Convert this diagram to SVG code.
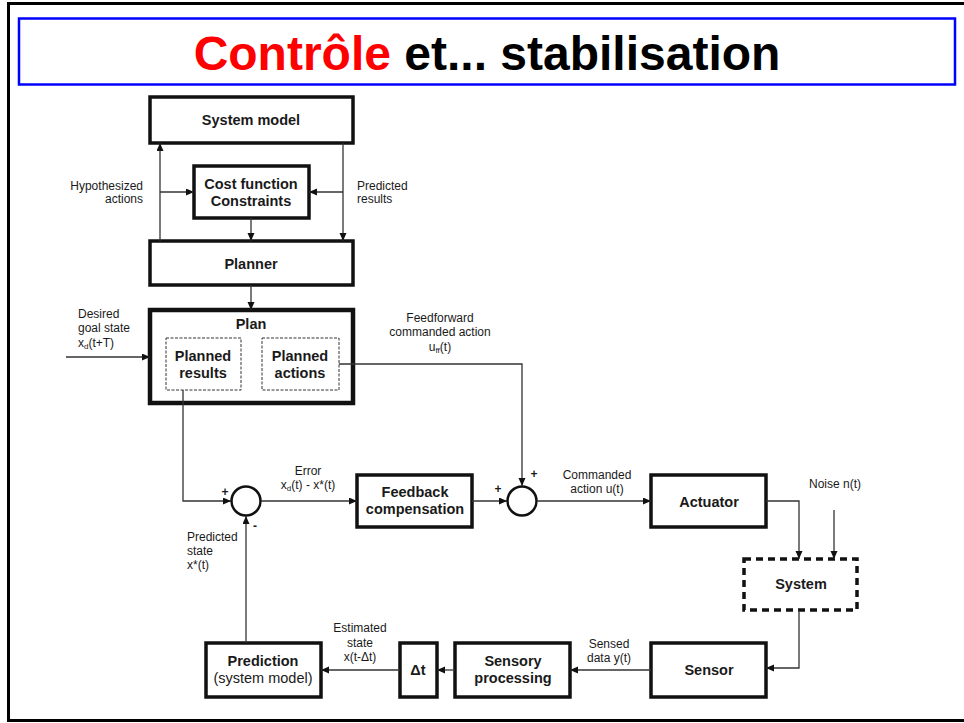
<svg xmlns="http://www.w3.org/2000/svg" width="964" height="723" viewBox="0 0 964 723">
<style>
.box{fill:#fff;stroke:#111;stroke-width:3.5}
.thin{fill:#fff;stroke:#333;stroke-width:1;stroke-dasharray:3 1.5}
.sys{fill:#fff;stroke:#111;stroke-width:3.5;stroke-dasharray:7 5}
.b{font-family:"Liberation Sans",Arial,sans-serif;font-weight:bold;font-size:14.5px;fill:#1a1a1a;text-anchor:middle}
.l{font-family:"Liberation Sans",Arial,sans-serif;font-size:12px;fill:#1a1a1a}
.c{text-anchor:middle}
.e{text-anchor:end}
.con path{fill:none;stroke:#333;stroke-width:1.3;marker-end:url(#ah)}
.sum{fill:#fff;stroke:#111;stroke-width:2.5}
</style>
<defs>
<marker id="ah" markerUnits="userSpaceOnUse" markerWidth="9" markerHeight="8" refX="8" refY="3.5" orient="auto">
<path d="M0,0 L8,3.5 L0,7 z" fill="#111"/>
</marker>
</defs>
<rect x="0" y="0" width="964" height="723" fill="#fff"/>
<rect x="8.5" y="3.5" width="970" height="717" fill="none" stroke="#000" stroke-width="3"/>
<g id="title">
<rect x="19" y="18.5" width="936" height="66" fill="#fff" stroke="#0000ff" stroke-width="2.5"/>
<text x="487" y="69.5" text-anchor="middle" font-family="'Liberation Sans',Arial,sans-serif" font-weight="bold" font-size="48px"><tspan fill="#ff0000">Contrôle</tspan><tspan fill="#000"> et... stabilisation</tspan></text>
</g>
<g id="system-model"><rect class="box" x="150" y="97" width="203" height="46"/><text class="b" x="251" y="125">System model</text></g>
<g id="cost-function"><rect class="box" x="194" y="166" width="115" height="52"/><text class="b" x="251" y="189">Cost function</text><text class="b" x="251" y="206">Constraints</text></g>
<g id="planner"><rect class="box" x="150" y="241" width="203" height="44"/><text class="b" x="251" y="269">Planner</text></g>
<g id="plan"><rect class="box" style="stroke-width:4.5" x="150" y="310" width="203" height="93"/><text class="b" x="251" y="329">Plan</text>
<g id="planned-results"><rect class="thin" x="166" y="338" width="75" height="52"/><text class="b" x="203" y="361">Planned</text><text class="b" x="203" y="378">results</text></g>
<g id="planned-actions"><rect class="thin" x="262" y="338" width="77" height="52"/><text class="b" x="300" y="361">Planned</text><text class="b" x="300" y="378">actions</text></g>
</g>
<g id="sum1"><circle class="sum" cx="246" cy="501" r="14.5"/><text class="b" x="225" y="496" style="font-size:12px">+</text><text class="b" x="255" y="530" style="font-size:12px">-</text></g>
<g id="feedback"><rect class="box" x="357" y="475" width="115" height="52"/><text class="b" x="415" y="497">Feedback</text><text class="b" x="415" y="514">compensation</text></g>
<g id="sum2"><circle class="sum" cx="522" cy="501" r="14.5"/><text class="b" x="498" y="493" style="font-size:12px">+</text><text class="b" x="534" y="478" style="font-size:12px">+</text></g>
<g id="actuator"><rect class="box" x="651" y="475" width="115" height="52"/><text class="b" x="709" y="507">Actuator</text></g>
<g id="system"><rect class="sys" x="744" y="559" width="113" height="51"/><text class="b" x="801" y="589">System</text></g>
<g id="sensor"><rect class="box" x="651" y="643" width="115" height="54"/><text class="b" x="709" y="675">Sensor</text></g>
<g id="sensory-processing"><rect class="box" x="455" y="643" width="115" height="54"/><text class="b" x="513" y="666">Sensory</text><text class="b" x="513" y="683">processing</text></g>
<g id="delta-t"><rect class="box" x="400" y="643" width="37" height="54"/><text class="b" x="418" y="675">Δt</text></g>
<g id="prediction"><rect class="box" x="206" y="643" width="115" height="54"/><text class="b" x="263" y="666">Prediction</text><text class="b" x="263" y="683" style="font-weight:normal">(system model)</text></g>
<g id="connectors" class="con">
<path d="M160,241 V143"/>
<path d="M160,192 H194"/>
<path d="M343,143 V241"/>
<path d="M343,192 H309"/>
<path d="M251,218 V241"/>
<path d="M251,285 V310"/>
<path d="M66,357 H150"/>
<path d="M339,364 H522 V486"/>
<path d="M183,390 V501 H231"/>
<path d="M261,501 H357"/>
<path d="M472,501 H507"/>
<path d="M537,501 H651"/>
<path d="M766,501 H799 V559"/>
<path d="M834,510 V559"/>
<path d="M799,610 V668 H766"/>
<path d="M651,670 H570"/>
<path d="M455,670 H437"/>
<path d="M400,670 H321"/>
<path d="M246,643 V516"/>
</g>
<g id="labels">
<text class="l e" x="143" y="190">Hypothesized</text>
<text class="l e" x="143" y="203">actions</text>
<text class="l" x="357" y="190">Predicted</text>
<text class="l" x="357" y="203">results</text>
<text class="l" x="78" y="318">Desired</text>
<text class="l" x="78" y="332">goal state</text>
<text class="l" x="78" y="347">x<tspan font-size="8" dy="2">d</tspan><tspan dy="-2">(t+T)</tspan></text>
<text class="l c" x="440" y="322">Feedforward</text>
<text class="l c" x="440" y="336">commanded action</text>
<text class="l c" x="440" y="351">u<tspan font-size="8" dy="2">ff</tspan><tspan dy="-2">(t)</tspan></text>
<text class="l c" x="308" y="475">Error</text>
<text class="l c" x="308" y="489">x<tspan font-size="8" dy="2">d</tspan><tspan dy="-2">(t) - x*(t)</tspan></text>
<text class="l c" x="597" y="479">Commanded</text>
<text class="l c" x="597" y="493">action u(t)</text>
<text class="l c" x="835" y="488">Noise n(t)</text>
<text class="l" x="187" y="541">Predicted</text>
<text class="l" x="187" y="555">state</text>
<text class="l" x="187" y="569">x*(t)</text>
<text class="l c" x="609" y="648">Sensed</text>
<text class="l c" x="609" y="662">data y(t)</text>
<text class="l c" x="360" y="632">Estimated</text>
<text class="l c" x="360" y="647">state</text>
<text class="l c" x="360" y="661">x(t-Δt)</text>
</g>
</svg>
